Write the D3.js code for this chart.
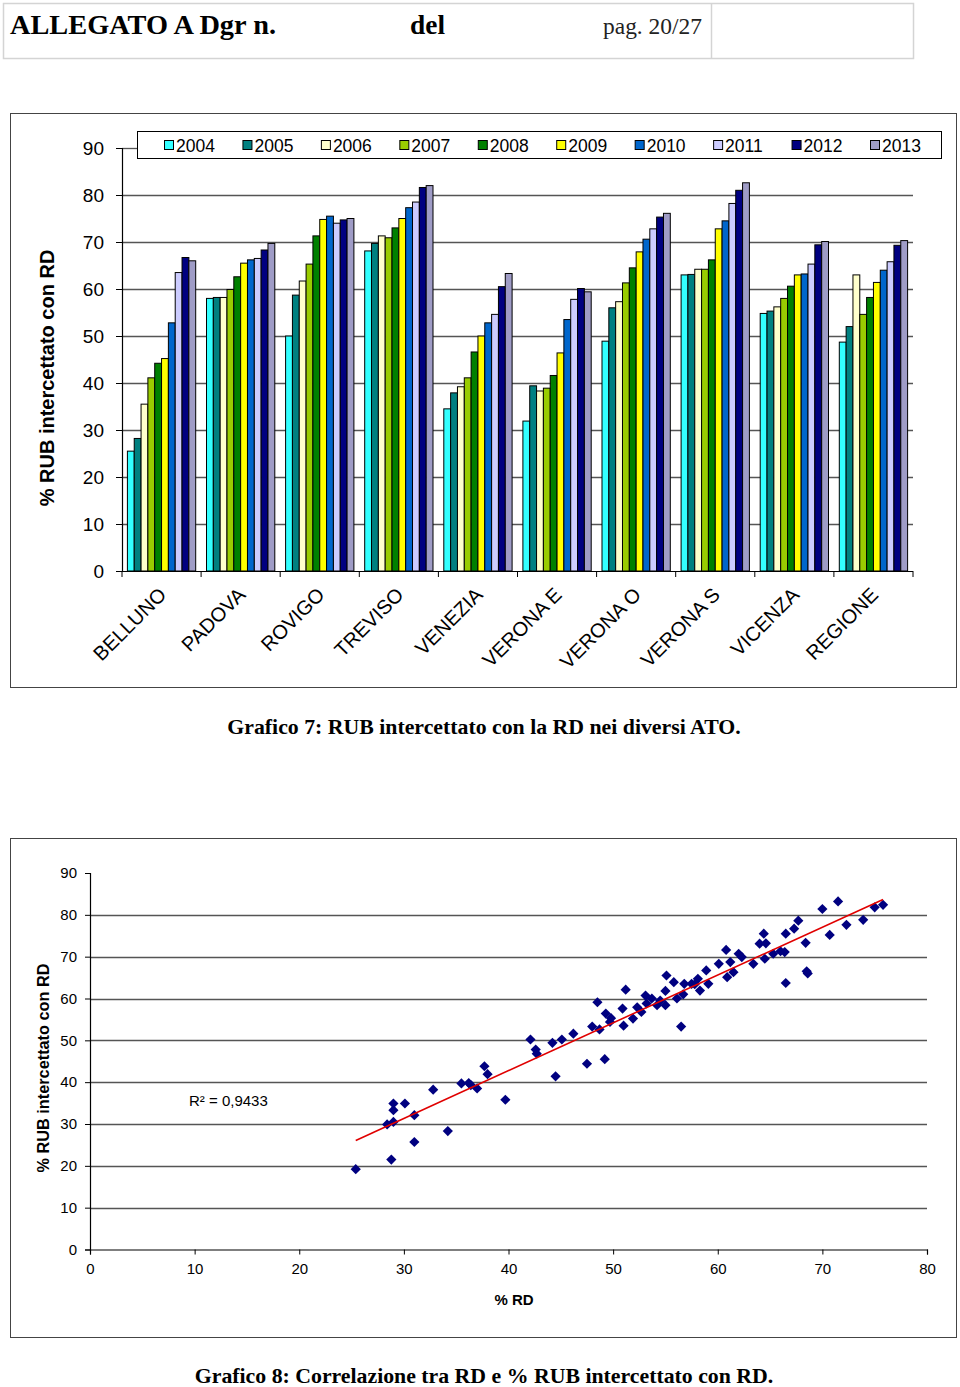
<!DOCTYPE html>
<html><head><meta charset="utf-8">
<script src="https://cdn.jsdelivr.net/npm/d3@7/dist/d3.min.js"></script>
<style>body{margin:0;background:#fff}svg{display:block}</style>
</head><body>
<script>
// ---------- DATA ----------
const categories = ["BELLUNO","PADOVA","ROVIGO","TREVISO","VENEZIA","VERONA E","VERONA O","VERONA S","VICENZA","REGIONE"];
const years = ["2004","2005","2006","2007","2008","2009","2010","2011","2012","2013"];
const belluno  = [25.5,28.2,35.5,41.1,44.2,45.2,52.8,63.5,66.7,66.0];
const padova   = [58.0,58.2,58.2,59.9,62.6,65.5,66.2,66.5,68.3,69.7];
const rovigo   = [50.0,58.7,61.7,65.3,71.3,74.8,75.5,74.0,74.7,75.0];
const treviso  = [68.1,69.7,71.3,70.9,73.0,75.0,77.3,78.5,81.6,82.0];
const venezia  = [34.5,37.9,39.2,41.1,46.6,50.0,52.8,54.6,60.5,63.3];
const veronaE  = [31.9,39.4,38.3,38.9,41.6,46.4,53.5,57.8,60.1,59.4];
const veronaO  = [48.9,56.0,57.3,61.3,64.5,67.9,70.6,72.8,75.3,76.1];
const veronaS  = [63.0,63.1,64.2,64.2,66.2,72.8,74.5,78.2,81.0,82.6];
const vicenza  = [54.8,55.3,56.2,58.0,60.6,63.0,63.2,65.3,69.4,70.1];
const regione  = [48.7,52.0,63.0,54.6,58.2,61.4,64.0,65.8,69.3,70.3];
const barTicks = [0,10,20,30,40,50,60,70,80,90];

const rdValues  = [25.4,28.8,28.4,29.0,29.0,29.0,30.1,31.0,31.0,32.8,34.2,35.5,36.2,36.4,37.0,37.7,38.0,39.7,42.1,42.6,42.7,44.2,45.1,44.5,46.2,47.5,49.2,48.0,48.7,48.5,49.3,49.7,51.2,50.9,51.0,51.9,52.3,52.7,53.1,53.7,54.2,55.0,55.1,55.0,55.8,56.8,56.1,56.7,57.5,58.1,58.3,58.9,59.1,60.1,60.9,61.2,61.5,60.8,62.0,63.4,64.0,64.4,64.6,64.5,65.3,66.0,66.4,66.5,66.5,67.3,67.7,68.4,68.5,70.0,70.7,71.5,72.3,73.9,75.0,75.8,56.5,57.8,62.3,54.5,53.2,49.8,68.6];
const rubValues = [19.2,21.5,29.9,30.5,33.3,34.9,34.9,32.1,25.7,38.2,28.3,39.7,39.8,39.3,38.5,43.8,41.9,35.8,50.2,47.8,46.8,49.4,50.2,41.4,51.6,44.4,45.5,53.3,52.6,59.1,56.4,54.4,62.1,57.6,53.5,55.2,57.9,56.8,60.7,60.0,58.4,58.4,65.5,61.8,63.9,63.5,60.0,61.0,63.5,64.7,61.9,66.7,63.5,68.3,65.1,68.7,66.3,71.6,70.7,68.3,73.1,75.5,73.2,69.5,70.7,71.3,71.1,75.5,63.7,76.7,78.6,73.3,66.5,81.4,75.2,83.2,77.6,78.8,81.8,82.4,53.3,63.4,69.9,59.5,58.8,55.3,66.0];
const scatterXTicks = [0,10,20,30,40,50,60,70,80];
const scatterYTicks = [0,10,20,30,40,50,60,70,80,90];
const r2Label = "R² = 0,9433";

// ---------- STYLE ----------
const colors = ["#33FFFF","#008080","#FFFFCC","#99CC00","#008000","#FFFF00","#0066CC","#CCCCFF","#000080","#9F9CC6"];
const sans = "'Liberation Sans', Arial, sans-serif";
const serif = "'Liberation Serif', 'Times New Roman', serif";
const gridColor = "#555";

const svg = d3.select("body").append("svg").attr("width",960).attr("height",1387);

// ---------- HEADER ----------
const hdr = svg.append("g");
hdr.append("rect").attr("x",3.5).attr("y",3.5).attr("width",910).attr("height",55)
  .attr("fill","none").attr("stroke","#d4d4d4").attr("stroke-width",1.5);
hdr.append("line").attr("x1",711.5).attr("x2",711.5).attr("y1",3.5).attr("y2",58.5).attr("stroke","#d4d4d4").attr("stroke-width",1.5);
hdr.append("text").attr("x",10).attr("y",34).attr("font-family",serif).attr("font-weight","bold").attr("font-size",28)
  .attr("textLength",266).attr("lengthAdjust","spacingAndGlyphs").text("ALLEGATO A Dgr n.");
hdr.append("text").attr("x",410).attr("y",34).attr("font-family",serif).attr("font-weight","bold").attr("font-size",28)
  .attr("textLength",35).attr("lengthAdjust","spacingAndGlyphs").text("del");
hdr.append("text").attr("x",603).attr("y",34).attr("font-family",serif).attr("font-size",24)
  .attr("textLength",99).attr("lengthAdjust","spacingAndGlyphs").attr("fill","#222").text("pag. 20/27");

// ---------- CHART 1: grouped bars ----------
svg.append("rect").attr("x",10.5).attr("y",113.5).attr("width",946).attr("height",574)
  .attr("fill","#fff").attr("stroke","#444").attr("stroke-width",1);

const seriesByCat = [belluno,padova,rovigo,treviso,venezia,veronaE,veronaO,veronaS,vicenza,regione];
const table = categories.map((c,i)=>({cat:c, vals: years.map((y,j)=>({year:y, idx:j, v:seriesByCat[i][j]}))}));

const b = {left:122, right:913, top:148, bottom:571};
const x0 = d3.scaleBand().domain(categories).range([b.left,b.right]).paddingInner(0).paddingOuter(0);
const x1 = d3.scaleBand().domain(years).range([5.4, x0.bandwidth()-5.4]).padding(0);
const yb = d3.scaleLinear().domain([0,90]).range([b.bottom,b.top]);

const g1 = svg.append("g");
g1.append("g").selectAll("line").data(barTicks.filter(t=>t>0 && t<90)).join("line")
  .attr("x1",b.left).attr("x2",b.right).attr("y1",d=>Math.round(yb(d))+0.5).attr("y2",d=>Math.round(yb(d))+0.5)
  .attr("stroke",gridColor).attr("stroke-width",1.3);
g1.append("line").attr("x1",b.left).attr("x2",138).attr("y1",yb(90)+0.5).attr("y2",yb(90)+0.5).attr("stroke",gridColor).attr("stroke-width",1.3);

const groups = g1.append("g").selectAll("g").data(table).join("g")
  .attr("transform",d=>`translate(${x0(d.cat)},0)`);
groups.selectAll("rect").data(d=>d.vals).join("rect")
  .attr("x",d=>x1(d.year)).attr("width",x1.bandwidth())
  .attr("y",d=>yb(d.v)).attr("height",d=>yb(0)-yb(d.v))
  .attr("fill",d=>colors[d.idx]).attr("stroke","#000").attr("stroke-width",1);

const yAxis = d3.axisLeft(yb).tickValues(barTicks).tickSize(6).tickPadding(12).tickFormat(d3.format("d"));
const ya = g1.append("g").attr("transform",`translate(${b.left},0)`).call(yAxis);
ya.select(".domain").attr("stroke","#000").attr("stroke-width",1.2);
ya.selectAll(".tick line").attr("stroke","#000");
ya.selectAll(".tick text").attr("font-family",sans).attr("font-size",19).attr("fill","#000");

const xa = g1.append("g").attr("transform",`translate(0,${b.bottom})`);
xa.append("line").attr("x1",b.left).attr("x2",b.right).attr("y1",0.5).attr("y2",0.5).attr("stroke","#000").attr("stroke-width",1.2);
const bounds = categories.map(c=>x0(c)).concat([b.right]);
xa.selectAll("line.tk").data(bounds).join("line").attr("class","tk")
  .attr("x1",d=>d).attr("x2",d=>d).attr("y1",0).attr("y2",6).attr("stroke","#000");
xa.selectAll("text").data(categories).join("text")
  .attr("transform",d=>`translate(${x0(d)+x0.bandwidth()/2+6},${25}) rotate(-45)`)
  .attr("text-anchor","end").attr("font-family",sans).attr("font-size",20).attr("fill","#000").text(d=>d);

g1.append("text").attr("transform","translate(54,378) rotate(-90)").attr("text-anchor","middle")
  .attr("font-family",sans).attr("font-weight","bold").attr("font-size",20).attr("fill","#000")
  .text("% RUB intercettato con RD");

const lg = g1.append("g");
lg.append("rect").attr("x",137.5).attr("y",131.5).attr("width",804).attr("height",27).attr("fill","#fff").attr("stroke","#000").attr("stroke-width",1);
const lx = d3.scalePoint().domain(years).range([164,870]);
const li = lg.selectAll("g").data(years).join("g").attr("transform",d=>`translate(${lx(d)},0)`);
li.append("rect").attr("x",0.5).attr("y",140.5).attr("width",9).attr("height",9)
  .attr("fill",(d,i)=>colors[i]).attr("stroke","#000").attr("stroke-width",1);
li.append("text").attr("x",12).attr("y",152).attr("font-family",sans).attr("font-size",17.5).attr("fill","#000").text(d=>d);

svg.append("text").attr("x",484).attr("y",734).attr("text-anchor","middle").attr("font-family",serif)
  .attr("font-weight","bold").attr("font-size",21.8).text("Grafico 7: RUB intercettato con la RD nei diversi ATO.");

// ---------- CHART 2: scatter ----------
svg.append("rect").attr("x",10.5).attr("y",838.5).attr("width",946).attr("height",499)
  .attr("fill","#fff").attr("stroke","#444").attr("stroke-width",1);
const s = {left:90, right:927, top:873, bottom:1249.5};
const xs = d3.scaleLinear().domain([0,80]).range([s.left,s.right]);
const ys = d3.scaleLinear().domain([0,90]).range([s.bottom,s.top]);
const g2 = svg.append("g");
g2.append("g").selectAll("line").data(scatterYTicks.filter(t=>t>0 && t<90)).join("line")
  .attr("x1",s.left).attr("x2",s.right).attr("y1",d=>Math.round(ys(d))+0.5).attr("y2",d=>Math.round(ys(d))+0.5)
  .attr("stroke",gridColor).attr("stroke-width",1.3);

const ya2 = g2.append("g").attr("transform",`translate(${s.left},0)`)
  .call(d3.axisLeft(ys).tickValues(scatterYTicks).tickSize(5).tickPadding(8).tickFormat(d3.format("d")));
const xa2 = g2.append("g").attr("transform",`translate(0,${s.bottom})`)
  .call(d3.axisBottom(xs).tickValues(scatterXTicks).tickSize(5).tickPadding(9).tickFormat(d3.format("d")));
[ya2,xa2].forEach(a=>{
  a.select(".domain").attr("stroke","#000").attr("stroke-width",1.2);
  a.selectAll(".tick line").attr("stroke","#000");
  a.selectAll(".tick text").attr("font-family",sans).attr("font-size",15).attr("fill","#000");
});

const pts = rdValues.map((x,i)=>({x, y:rubValues[i]}));
const diamond = d3.symbol().type(d3.symbolSquare).size(52);
g2.append("g").selectAll("path").data(pts).join("path")
  .attr("d",diamond).attr("transform",d=>`translate(${xs(d.x)},${ys(d.y)}) rotate(45)`)
  .attr("fill","#000080");

const mx = d3.mean(pts,d=>d.x), my = d3.mean(pts,d=>d.y);
const slope = d3.sum(pts,d=>(d.x-mx)*(d.y-my))/d3.sum(pts,d=>(d.x-mx)*(d.x-mx));
const icpt = my - slope*mx;
const [xmin,xmax] = d3.extent(pts,d=>d.x);
g2.append("line").attr("x1",xs(xmin)).attr("y1",ys(icpt+slope*xmin)).attr("x2",xs(xmax)).attr("y2",ys(icpt+slope*xmax))
  .attr("stroke","#E00000").attr("stroke-width",1.6);

g2.append("text").attr("x",189).attr("y",1106).attr("font-family",sans).attr("font-size",15).attr("fill","#000").text(r2Label);
g2.append("text").attr("x",514).attr("y",1305).attr("text-anchor","middle").attr("font-family",sans).attr("font-weight","bold").attr("font-size",15).text("% RD");
g2.append("text").attr("transform","translate(49,1068) rotate(-90)").attr("text-anchor","middle")
  .attr("font-family",sans).attr("font-weight","bold").attr("font-size",16.3).text("% RUB intercettato con RD");

svg.append("text").attr("x",484).attr("y",1383).attr("text-anchor","middle").attr("font-family",serif)
  .attr("font-weight","bold").attr("font-size",21.8).text("Grafico 8: Correlazione tra RD e % RUB intercettato con RD.");
</script>
</body></html>
